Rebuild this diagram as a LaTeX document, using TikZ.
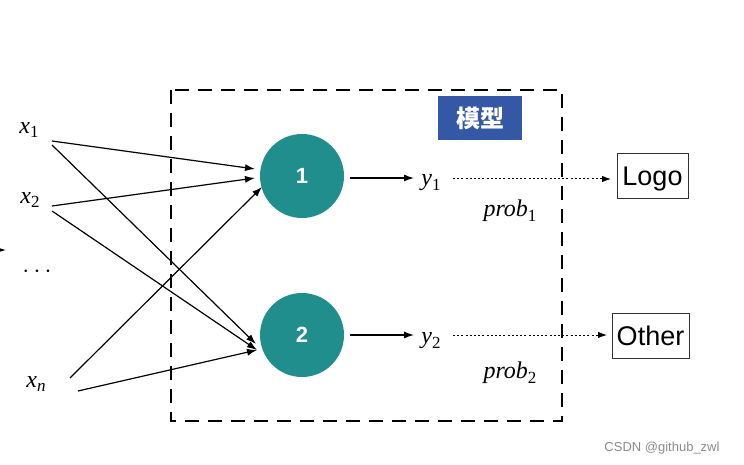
\documentclass[tikz,border=0pt]{standalone}
\usepackage{fontspec}
\setmainfont{Liberation Serif}
\newfontfamily\sansf{Liberation Sans}
\newfontfamily\cjk{Noto Sans CJK SC}
\usetikzlibrary{arrows.meta}
\definecolor{teal1}{RGB}{33,142,142}
\definecolor{blue1}{RGB}{52,88,166}
\newcommand{\var}[2]{\textit{#1}\raisebox{-0.4ex}{\fontsize{17}{17}\selectfont #2}}
\begin{document}
\begin{tikzpicture}[x=1pt,y=-1pt,
  neuron/.style={circle,fill=teal1,minimum size=84pt,inner sep=0pt,text=white,font=\sansf\bfseries\fontsize{22}{22}\selectfont},
  lab/.style={inner sep=0pt,font=\fontsize{24}{24}\selectfont},
  outbox/.style={draw=black!80,line width=0.8pt,inner sep=0pt,text height=19.5pt,text depth=0pt,font=\sansf\fontsize{27}{27}\selectfont},
  arr/.style={-{Latex[length=10pt,width=7pt]},line width=1.2pt},
  dotarr/.style={-{Latex[length=9pt,width=6.5pt]},line width=1pt,dash pattern=on 2pt off 2.2pt}]
\useasboundingbox (0,0) rectangle (744,465);
\fill[white] (0,0) rectangle (744,465);
% dashed model box
\draw[line width=2pt,dash pattern=on 14pt off 9pt] (171,90) rectangle (562,421);
\node[fill=blue1,minimum width=84pt,minimum height=44pt,inner sep=0pt,text=white,font=\cjk\bfseries\fontsize{24}{24}\selectfont] (model) at (480,118) {模型};
% neurons
\node[neuron] (c1) at (302,176) {1};
\node[neuron] (c2) at (302,335) {2};
% inputs
\node[lab] (x1) at (29,130) {\var{x}{1}};
\node[lab] (x2) at (30,200) {\var{x}{2}};
\node[lab] (xd) at (37,272) {$\cdots$};
\node[lab] (xn) at (36,384) {\var{x}{\textit{n}}};
\coordinate (x1a) at (52,141);
\coordinate (x1b) at (52,145);
\coordinate (x2a) at (52,206);
\coordinate (x2b) at (52,211);
\coordinate (xna) at (70,378);
\coordinate (xnb) at (78,391);
\coordinate (e1a) at (255,169);
\coordinate (e1b) at (255,178);
\coordinate (e1c) at (262,187);
\coordinate (e2a) at (256,344);
\coordinate (e2b) at (257,350);
\coordinate (e2c) at (257,350);
\draw[arr] (x1a) -- (e1a);
\draw[arr] (x1b) -- (e2a);
\draw[arr] (x2a) -- (e1b);
\draw[arr] (x2b) -- (e2b);
\draw[arr] (xna) -- (e1c);
\draw[arr] (xnb) -- (e2c);
% outputs
\node[lab] (y1) at (431,183) {\var{y}{1}};
\node[lab] (y2) at (431,341) {\var{y}{2}};
\coordinate (c1o) at (350,178);
\coordinate (c1e) at (414,178);
\coordinate (c2o) at (350,335);
\coordinate (c2e) at (414,335);
\draw[arr] (c1o) -- (c1e);
\draw[arr] (c2o) -- (c2e);
\node[lab] (p1) at (510,211) {\var{prob}{1}};
\node[lab] (p2) at (510,373) {\var{prob}{2}};
\node[outbox,minimum width=71pt,minimum height=45pt] (logo) at (652.5,175.5) {Logo};
\node[outbox,minimum width=77pt,minimum height=45pt] (other) at (650.5,335.5) {Other};
\coordinate (d1s) at (453,179);
\coordinate (d1e) at (611,179);
\coordinate (d2s) at (453,335);
\coordinate (d2e) at (607,335);
\draw[dotarr] (d1s) -- (d1e);
\draw[dotarr] (d2s) -- (d2e);
% partial arrow tip at left edge
\coordinate (lt) at (6,250);
\draw[arr] (-20,250) -- (lt);
% watermark
\node[inner sep=0pt,text=black!45,font=\sansf\fontsize{13}{13}\selectfont] (wm) at (662,448) {CSDN @github\_zwl};
\end{tikzpicture}
\end{document}
